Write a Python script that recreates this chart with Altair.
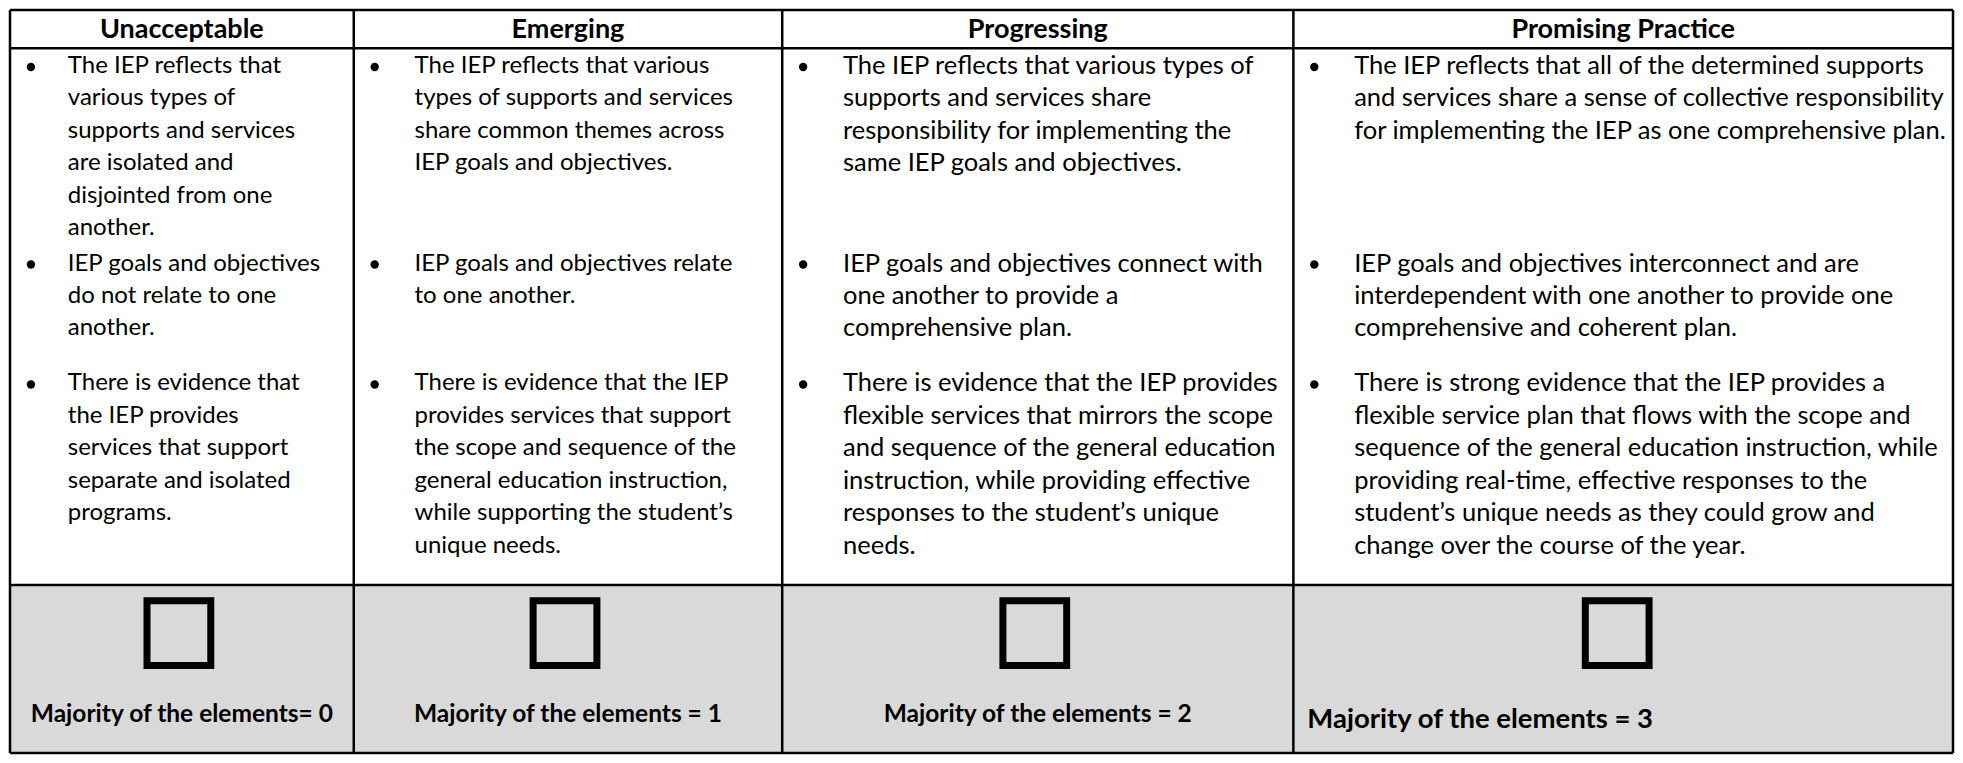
import altair as alt
import pandas as pd

# ---------------- content ----------------
headers = ["Unacceptable", "Emerging", "Progressing", "Promising Practice"]

unacceptable = [
    ["The IEP reflects that", "various types of", "supports and services",
     "are isolated and", "disjointed from one", "another."],
    ["IEP goals and objectives", "do not relate to one", "another."],
    ["There is evidence that", "the IEP provides", "services that support",
     "separate and isolated", "programs."],
]
emerging = [
    ["The IEP reflects that various", "types of supports and services",
     "share common themes across", "IEP goals and objectives."],
    ["IEP goals and objectives relate", "to one another."],
    ["There is evidence that the IEP", "provides services that support",
     "the scope and sequence of the", "general education instruction,",
     "while supporting the student\u2019s", "unique needs."],
]
progressing = [
    ["The IEP reflects that various types of", "supports and services share",
     "responsibility for implementing the", "same IEP goals and objectives."],
    ["IEP goals and objectives connect with", "one another to provide a",
     "comprehensive plan."],
    ["There is evidence that the IEP provides", "flexible services that mirrors the scope",
     "and sequence of the general education", "instruction, while providing effective",
     "responses to the student\u2019s unique", "needs."],
]
promising = [
    ["The IEP reflects that all of the determined supports",
     "and services share a sense of collective responsibility",
     "for implementing the IEP as one comprehensive plan."],
    ["IEP goals and objectives interconnect and are",
     "interdependent with one another to provide one",
     "comprehensive and coherent plan."],
    ["There is strong evidence that the IEP provides a",
     "flexible service plan that flows with the scope and",
     "sequence of the general education instruction, while",
     "providing real-time, effective responses to the",
     "student\u2019s unique needs as they could grow and",
     "change over the course of the year."],
]
columns = [unacceptable, emerging, progressing, promising]

labels = ["Majority of the elements= 0", "Majority of the elements = 1",
          "Majority of the elements = 2", "Majority of the elements = 3"]

# ---------------- layout (page pixel units) ----------------
col_edges = [7, 352, 782, 1295, 1957]
table_top, head_bottom, body_bottom, table_bottom = 5, 44, 590, 761
bullet_tops = [62, 263, 385]
line_h = 33
bullet_dx = [21, 21, 21, 21]
text_dx = [58, 61, 61, 61]
col_font = [24, 24, 25.5, 25.5]
head_y = 25
box_w, box_h, box_cy = 64, 66, 639
box_off = [-3, -3, -3, -6]
label_y = [722, 722, 722, 727]

FONT = "Lato"
W, H = 1947, 747
xs = alt.Scale(domain=[6, 1958])
ys = alt.Scale(domain=[4, 762], reverse=True)


def X(f):
    return alt.X(f"{f}:Q", scale=xs, axis=None)


def Y(f):
    return alt.Y(f"{f}:Q", scale=ys, axis=None)


rows, bullets = [], []
for c, col in enumerate(columns):
    left = col_edges[c]
    for b, lines in enumerate(col):
        top = bullet_tops[b]
        bullets.append({"x": left + bullet_dx[c], "y": top + 1})
        for i, t in enumerate(lines):
            rows.append({"x": left + text_dx[c], "y": top + i * line_h,
                         "text": t, "fs": col_font[c]})
text_df = pd.DataFrame(rows)
bullet_df = pd.DataFrame(bullets)

centers = [(col_edges[i] + col_edges[i + 1]) / 2 for i in range(4)]
head_df = pd.DataFrame({"x": centers, "y": [head_y] * 4, "text": headers})

lab_center_df = pd.DataFrame({"x": centers[:3], "y": label_y[:3], "text": labels[:3]})
lab_left_df = pd.DataFrame({"x": [col_edges[3] + 14], "y": [label_y[3]], "text": [labels[3]]})

box_df = pd.DataFrame({
    "x": [centers[i] + box_off[i] - box_w / 2 for i in range(4)],
    "x2": [centers[i] + box_off[i] + box_w / 2 for i in range(4)],
    "y": [box_cy - box_h / 2] * 4,
    "y2": [box_cy + box_h / 2] * 4,
})

gray_df = pd.DataFrame({"x": [col_edges[0]], "x2": [col_edges[-1]],
                        "y": [body_bottom], "y2": [table_bottom]})

lines = []
for yy in [table_top, head_bottom, body_bottom, table_bottom]:
    lines.append({"x": col_edges[0], "x2": col_edges[-1], "y": yy, "y2": yy})
for xx in col_edges:
    lines.append({"x": xx, "x2": xx, "y": table_top, "y2": table_bottom})
line_df = pd.DataFrame(lines)

gray = alt.Chart(gray_df).mark_rect(color="#d9d9d9").encode(
    x=X("x"), x2="x2", y=Y("y"), y2="y2")

grid = alt.Chart(line_df).mark_rule(color="black", strokeWidth=2.5).encode(
    x=X("x"), x2="x2", y=Y("y"), y2="y2")

boxes = alt.Chart(box_df).mark_rect(fill="#d9d9d9", stroke="black", strokeWidth=7).encode(
    x=X("x"), x2="x2", y=Y("y"), y2="y2")

body = alt.Chart(text_df).mark_text(
    align="left", baseline="middle", font=FONT, color="black"
).encode(x=X("x"), y=Y("y"), text="text:N", size=alt.Size("fs:Q", scale=None, legend=None))

dots = alt.Chart(bullet_df).mark_circle(size=70, color="black", opacity=1).encode(
    x=X("x"), y=Y("y"))

head = alt.Chart(head_df).mark_text(
    align="center", baseline="middle", font=FONT, fontSize=27, fontWeight="bold", color="black"
).encode(x=X("x"), y=Y("y"), text="text:N")

lab_c = alt.Chart(lab_center_df).mark_text(
    align="center", baseline="middle", font=FONT, fontSize=24.5, fontWeight="bold", color="black"
).encode(x=X("x"), y=Y("y"), text="text:N")

lab_l = alt.Chart(lab_left_df).mark_text(
    align="left", baseline="middle", font=FONT, fontSize=27.5, fontWeight="bold", color="black"
).encode(x=X("x"), y=Y("y"), text="text:N")

chart = alt.layer(gray, boxes, grid, body, dots, head, lab_c, lab_l).properties(
    width=W, height=H, padding=0,
    autosize=alt.AutoSizeParams(type="fit", contains="padding"),
    background="white",
).configure_view(strokeWidth=0)

chart.save("out.html", embed_options={"renderer": "svg", "actions": False})
